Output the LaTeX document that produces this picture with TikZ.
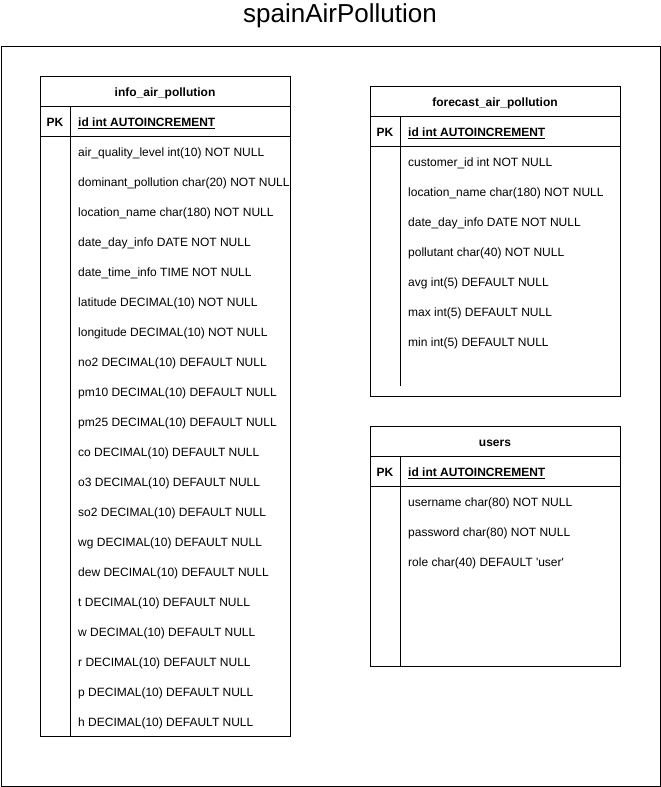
\documentclass[tikz,border=0pt]{standalone}
\usepackage{fontspec}
\setmainfont{Liberation Sans}
\begin{document}
\begin{tikzpicture}[x=1pt,y=-1pt,
  frame/.style={draw=black,line width=1pt},
  fld/.style={anchor=mid west,inner sep=0pt,font=\fontsize{12}{14}\selectfont},
  hdr/.style={anchor=mid,inner sep=0pt,font=\fontsize{12}{14}\selectfont\bfseries},
  pk/.style={anchor=mid,inner sep=0pt,font=\fontsize{12}{14}\selectfont\bfseries},
  ttl/.style={anchor=mid,inner sep=0pt,font=\fontsize{26}{30}\selectfont}]
\useasboundingbox (0,0) rectangle (661,787);
% title and outer frame
\node[ttl] (title) at (340,20) {spainAirPollution};
\draw[frame] (1,46) rectangle (660,786);
% ---------- info_air_pollution ----------
\draw[frame] (40,76) rectangle (290,736);
\draw[frame] (40,106) -- (290,106);
\draw[frame] (40,136) -- (290,136);
\draw[frame] (70,106) -- (70,736);
\node[hdr] (infoh) at (165,94) {info\_air\_pollution};
\node[pk] (infopk) at (55,124) {PK};
\node[fld,font=\fontsize{12}{14}\selectfont\bfseries] (infoid) at (78,124) {\underline{id int AUTOINCREMENT}};
\foreach \t [count=\i] in {
  air\_quality\_level int(10) NOT NULL,
  dominant\_pollution char(20) NOT NULL,
  location\_name char(180) NOT NULL,
  date\_day\_info DATE NOT NULL,
  date\_time\_info TIME NOT NULL,
  latitude DECIMAL(10) NOT NULL,
  longitude DECIMAL(10) NOT NULL,
  no2 DECIMAL(10) DEFAULT NULL,
  pm10 DECIMAL(10) DEFAULT NULL,
  pm25 DECIMAL(10) DEFAULT NULL,
  co DECIMAL(10) DEFAULT NULL,
  o3 DECIMAL(10) DEFAULT NULL,
  so2 DECIMAL(10) DEFAULT NULL,
  wg DECIMAL(10) DEFAULT NULL,
  dew DECIMAL(10) DEFAULT NULL,
  t DECIMAL(10) DEFAULT NULL,
  w DECIMAL(10) DEFAULT NULL,
  r DECIMAL(10) DEFAULT NULL,
  p DECIMAL(10) DEFAULT NULL,
  h DECIMAL(10) DEFAULT NULL}
  \node[fld] (info\i) at (78,{124+30*\i}) {\t};
% ---------- forecast_air_pollution ----------
\draw[frame] (370,86) rectangle (620,396);
\draw[frame] (370,116) -- (620,116);
\draw[frame] (370,146) -- (620,146);
\draw[frame] (400,116) -- (400,386);
\node[hdr] (fch) at (495,104) {forecast\_air\_pollution};
\node[pk] (fcpk) at (385,134) {PK};
\node[fld,font=\fontsize{12}{14}\selectfont\bfseries] (fcid) at (408,134) {\underline{id int AUTOINCREMENT}};
\foreach \t [count=\i] in {
  customer\_id int NOT NULL,
  location\_name char(180) NOT NULL,
  date\_day\_info DATE NOT NULL,
  pollutant char(40) NOT NULL,
  avg int(5) DEFAULT NULL,
  max int(5) DEFAULT NULL,
  min int(5) DEFAULT NULL}
  \node[fld] (fc\i) at (408,{134+30*\i}) {\t};
% ---------- users ----------
\draw[frame] (370,426) rectangle (620,666);
\draw[frame] (370,456) -- (620,456);
\draw[frame] (370,486) -- (620,486);
\draw[frame] (400,456) -- (400,666);
\node[hdr] (ush) at (495,444) {users};
\node[pk] (uspk) at (385,474) {PK};
\node[fld,font=\fontsize{12}{14}\selectfont\bfseries] (usid) at (408,474) {\underline{id int AUTOINCREMENT}};
\node[fld] (us1) at (408,504) {username char(80) NOT NULL};
\node[fld] (us2) at (408,534) {password char(80) NOT NULL};
\node[fld] (us3) at (408,564) {role char(40) DEFAULT \textquotesingle user\textquotesingle};
\end{tikzpicture}
\end{document}
